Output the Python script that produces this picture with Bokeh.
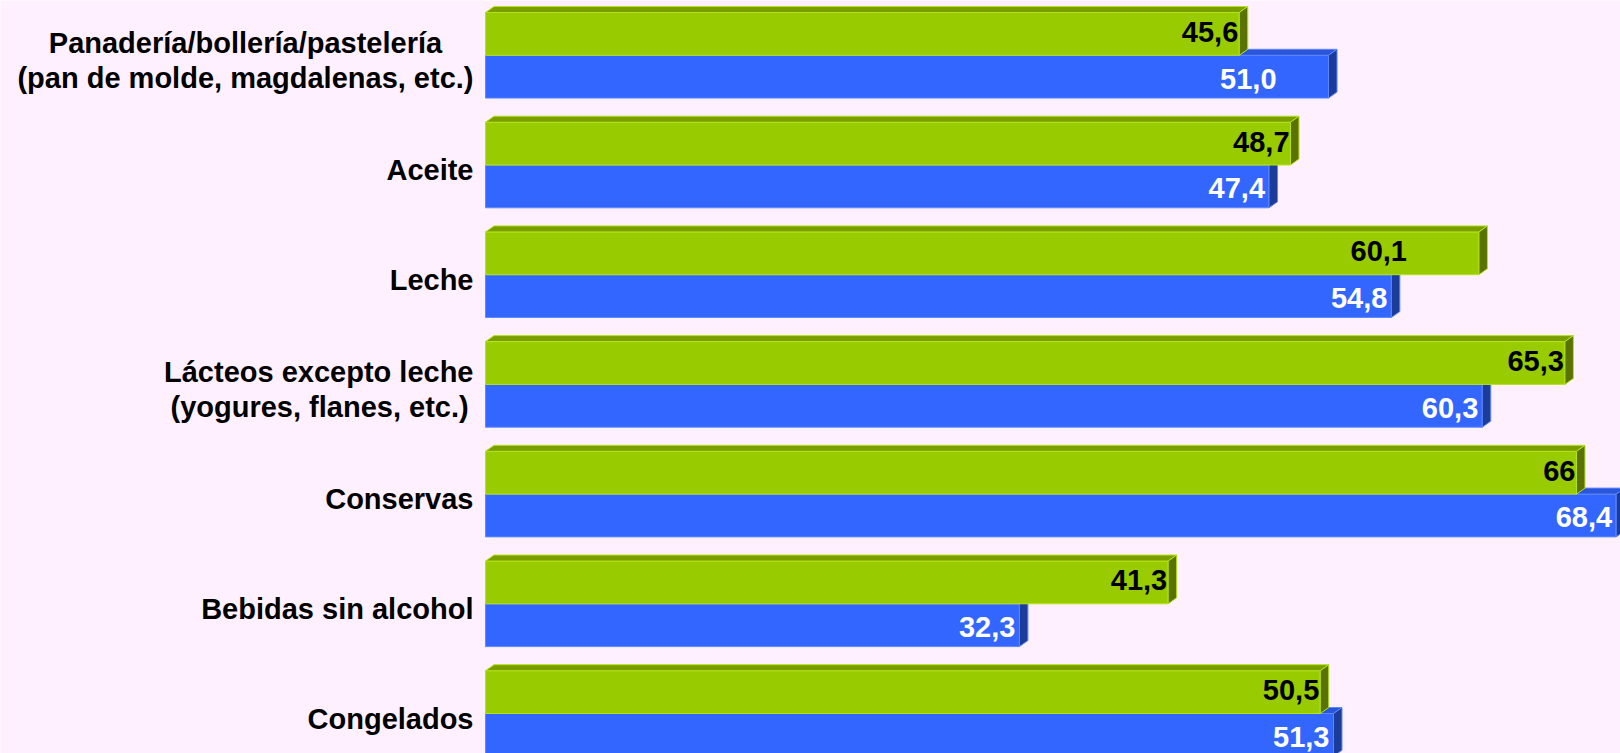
from bokeh.plotting import figure
from bokeh.models import Range1d, ColumnDataSource
from bokeh.core.properties import value
from bokeh.embed import file_html
from bokeh.resources import INLINE

# ---- data ----
categories = [
    "Panadería/bollería/pastelería\n(pan de molde, magdalenas, etc.)",
    "Aceite",
    "Leche",
    "Lácteos excepto leche\n(yogures, flanes, etc.)",
    "Conservas",
    "Bebidas sin alcohol",
    "Congelados",
]
green_values = [45.6, 48.7, 60.1, 65.3, 66.0, 41.3, 50.5]
blue_values = [51.0, 47.4, 54.8, 60.3, 68.4, 32.3, 51.3]
green_labels = ["45,6", "48,7", "60,1", "65,3", "66", "41,3", "50,5"]
blue_labels = ["51,0", "47,4", "54,8", "60,3", "68,4", "32,3", "51,3"]

# label nudges (pixels) as placed in the original
green_label_shift = [0, 0, -71, 0, 0, 0, 0]
blue_label_shift = [-48, 0, 0, 0, 0, 0, 0]

# ---- layout / style ----
W, H = 1620, 753
LEFT = 485            # pixel x where bars start
PX_X = 16.53          # pixels per unit on x
PITCH = 109.7         # pixels per category
FIRST = 54.8          # pixel y of first category centre
BG = "#FEF0FE"
GREEN, GREEN_TOP, GREEN_SIDE, GREEN_EDGE = "#99CC00", "#7A9E00", "#5A7300", "#B5E31A"
BLUE, BLUE_TOP, BLUE_SIDE, BLUE_EDGE = "#3366FF", "#2A55DD", "#1C3C9C", "#5E88FF"
FONT = "Liberation Sans"
FS = 29               # font size px
LINE_H = 35           # px between label lines

# Arial/Liberation Sans Bold advance widths (per 1000 em) for centring label lines
_W = {" ": 278, "(": 333, ")": 333, ",": 278, ".": 278, "/": 278, "L": 611, "P": 667,
      "a": 556, "á": 556, "b": 611, "c": 556, "d": 611, "e": 556, "f": 333, "g": 611,
      "í": 278, "l": 278, "m": 889, "n": 611, "o": 611, "p": 611, "r": 389, "s": 556,
      "t": 333, "u": 611, "x": 556, "y": 556}


def text_w(s):
    return sum(_W.get(ch, 556) for ch in s) * FS / 1000.0


h = 0.39                  # bar thickness in category units
ddx = 8.5 / PX_X          # depth offset in data units
ddy = 6.0 / PITCH

p = figure(width=W, height=H, output_backend="svg", toolbar_location=None,
           x_range=Range1d(-LEFT / PX_X, (W - LEFT) / PX_X),
           y_range=Range1d((H - FIRST) / PITCH, -FIRST / PITCH),
           x_axis_location=None, y_axis_location=None, min_border=0)
p.background_fill_color = BG
p.border_fill_color = BG
p.outline_line_color = None
p.grid.visible = False

idx = list(range(len(categories)))


def bars(vals, top_of, bot_of, face, top, side, edge):
    ys_t = [top_of(i) for i in idx]
    ys_b = [bot_of(i) for i in idx]
    p.quad(left=[0] * len(vals), right=vals, top=ys_t, bottom=ys_b,
           fill_color=face, line_color=edge, line_width=1)
    xs_top = [[0, ddx, v + ddx, v] for v in vals]
    ys_top = [[t, t - ddy, t - ddy, t] for t in ys_t]
    p.patches(xs_top, ys_top, fill_color=top, line_color=edge, line_width=1)
    xs_side = [[v, v + ddx, v + ddx, v] for v in vals]
    ys_side = [[t, t - ddy, b - ddy, b] for t, b in zip(ys_t, ys_b)]
    p.patches(xs_side, ys_side, fill_color=side, line_color=edge, line_width=1)


# blue (lower) first, then green (upper) covers blue's top face
bars(blue_values, lambda i: i, lambda i: i + h, BLUE, BLUE_TOP, BLUE_SIDE, BLUE_EDGE)
bars(green_values, lambda i: i - h, lambda i: i, GREEN, GREEN_TOP, GREEN_SIDE, GREEN_EDGE)

gsrc = ColumnDataSource(dict(x=green_values, y=[i - h / 2 for i in idx], t=green_labels,
                             xo=[-1 + s for s in green_label_shift]))
bsrc = ColumnDataSource(dict(x=blue_values, y=[i + h / 2 for i in idx], t=blue_labels,
                             xo=[-4 + s for s in blue_label_shift]))
p.text(x="x", y="y", text="t", source=gsrc, x_offset="xo", y_offset=-2,
       text_align="right", text_baseline="middle", text_color="black",
       text_font=value(FONT), text_font_style="bold", text_font_size=f"{FS}px")
p.text(x="x", y="y", text="t", source=bsrc, x_offset="xo", y_offset=2,
       text_align="right", text_baseline="middle", text_color="white",
       text_font=value(FONT), text_font_style="bold", text_font_size=f"{FS}px")

# category labels: each line centred within its block, block right-aligned
lx, ly, lt, lxo, lyo = [], [], [], [], []
for i, cat in zip(idx, categories):
    lines = cat.split("\n")
    maxw = max(text_w(s) for s in lines)
    n = len(lines)
    for k, s in enumerate(lines):
        lx.append(0)
        ly.append(i)
        lt.append(s)
        lxo.append(-12 - (maxw - text_w(s)) / 2)
        lyo.append(5 + (k - (n - 1) / 2) * LINE_H)
csrc = ColumnDataSource(dict(x=lx, y=ly, t=lt, xo=lxo, yo=lyo))
p.text(x="x", y="y", text="t", source=csrc, x_offset="xo", y_offset="yo",
       text_align="right", text_baseline="middle", text_color="black",
       text_font=value(FONT), text_font_style="bold", text_font_size=f"{FS}px")

open("out.html", "w").write(file_html(p, INLINE))
